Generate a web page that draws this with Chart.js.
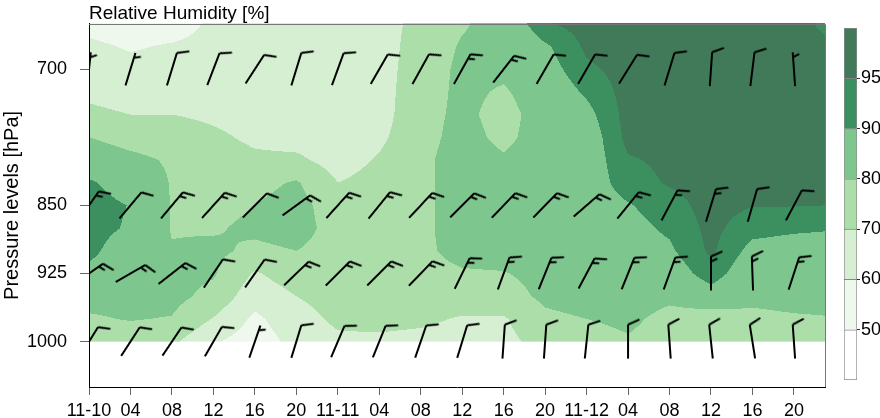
<!DOCTYPE html>
<html><head><meta charset="utf-8">
<script src="https://cdn.jsdelivr.net/npm/chart.js@4.4.1/dist/chart.umd.min.js"></script>
<style>
html,body{margin:0;padding:0;background:#fff;}
#wrap{position:relative;width:880px;height:418px;}
</style></head><body>
<div id="wrap">
  <div style="position:absolute;left:0;top:0;width:880px;height:418px"><canvas id="main"></canvas></div>
  <div style="position:absolute;left:835px;top:0;width:45px;height:418px"><canvas id="cbar"></canvas></div>
</div>
<script>
// ---------- data ----------
const hours  = [0,4,8,12,16,20,24,28,32,36,40,44,48,52,56,60,64,68,71];   // hours since 11-10 00:00
const levels = [650,675,700,725,750,775,800,825,850,875,900,925,950,975,1000]; // hPa
const rh650  = [57,54,55,62,63,64,65,66,73,79,84,94.5,97,99,99,99,99,99,93];
const rh675  = [62,59,61,63,63,64,64,66,74,81,83,89,96,98,99,99,99,99,97];
const rh700  = [65,63,64,64,63,63,63,66,75,82,82,87,94,97,99,99,99,99,99];
const rh725  = [68,66,67,66,64,63,62,66,76,82,79,85,91,97,99,99,99,99,99];
const rh750  = [72,70,70,68,66,64,62,66,77,82,77,84,88,97,98,99,99,99,99];
const rh775  = [80,77,76,72,68,66,63,68,77,83,78,84,86,96.5,97,99,98,98,98];
const rh800  = [85,82,79,75,72,72,66,71,78,84,81,84,86,94.5,96,98,97,97,97];
const rh825  = [91,86,79.5,77,77,81,70,73,78,84,84,84,86,93,95.5,97,96,96,96];
const rh850  = [93,89.7,79.5,77,80,84,74,75,78,84,85,84,86,89.5,93,97,95.2,95.2,95];
const rh875  = [93,89,79.5,79,82,84,76,76,78,84,85,84,86,88,91,96.5,92,91,90.5];
const rh900  = [92,85,80.5,82,78,80,76,76,78,83,84,84,86,87,89,96,88,87,87];
const rh925  = [88,84,83,81,69,75,75,76,77,79,79.5,83,85,86,86,93,85,85,85];
const rh950  = [83,83,83,77,64,70,74,75,76,76,76,82,84,85,82,87,82,83,83];
const rh975  = [79,80.5,79.5,69.5,58,66,72,73,72,69,69,78,80,82,77,75,78,79,79.5];
const rh1000 = [76,75,72,61,55,63,68,68,67,66,67,74,76,79,76,74,76,76,76];
const rhRows = [rh650,rh675,rh700,rh725,rh750,rh775,rh800,rh825,rh850,rh875,rh900,rh925,rh950,rh975,rh1000];

const barbHours  = [0,4,8,12,16,20,24,28,32,36,40,44,48,52,56,60,64,68];
const barbLevels = [700,850,925,1000];
const wdir700  = [6,17,17,21,33,17,20,30,29,29,38,30,30,32,17,4,7,-4];
const wspd700  = [5,5,10,10,10,10,10,10,10,15,15,10,10,10,10,10,10,5];
const wdir850  = [35,40,40,42,45,54,42,39,43,45,44,44,49,39,28,17,16,28];
const wspd850  = [15,10,15,15,10,15,15,15,15,15,15,15,15,15,15,15,10,10];
const wdir925  = [55,60,52,34,35,46,45,45,44,26,20,22,28,22,20,0,-2,18];
const wspd925  = [15,15,15,10,10,15,15,15,15,15,15,15,15,15,15,15,15,15];
const wdir1000 = [32,33,34,30,19,17,23,22,19,17,4,4,6,0,-4,-6,-9,-4];
const wspd1000 = [10,10,10,10,5,10,10,10,10,10,10,10,10,10,10,10,10,10];
const windDir = [wdir700,wdir850,wdir925,wdir1000];
const windSpd = [wspd700,wspd850,wspd925,wspd1000];

const xTickHours  = [0,4,8,12,16,20,24,28,32,36,40,44,48,52,56,60,64,68];
const xTickLabels = ['11-10','04','08','12','16','20','11-11','04','08','12','16','20','11-12','04','08','12','16','20'];
const yTickValues = [700,850,925,1000];
const yTickLabels = ['700','850','925','1000'];

const rhBreaks = [50,60,70,80,90,95];
const rhColors = ['#ffffff','#eef8ec','#d6efd2','#acdeaa','#7dc68e','#3c8f5e','#417a59'];
const cbLabels = ['50','60','70','80','90','95'];

// ---------- helpers ----------
Chart.defaults.font.family = "'Liberation Sans', Arial, sans-serif";
Chart.defaults.font.size = 18;
Chart.defaults.color = '#000';

function idxBelow(arr, v){ let i = 0; while (i < arr.length - 2 && v > arr[i+1]) i++; return i; }
function rhAt(t, p){
  const i = idxBelow(hours, t), j = idxBelow(levels, p);
  let fx = (t - hours[i]) / (hours[i+1] - hours[i]);
  let fy = (p - levels[j]) / (levels[j+1] - levels[j]);
  fx = Math.max(0, Math.min(1, fx)); fy = Math.max(0, Math.min(1, fy));
  const a = rhRows[j][i], b = rhRows[j][i+1], c = rhRows[j+1][i], d = rhRows[j+1][i+1];
  return (a*(1-fx) + b*fx)*(1-fy) + (c*(1-fx) + d*fx)*fy;
}
function colorFor(v){ let k = 0; while (k < rhBreaks.length && v >= rhBreaks[k]) k++; return rhColors[k]; }

function makeBarb(speed){
  const S = 76, c = S/2, L = 34, h = L/2;
  const cv = document.createElement('canvas'); cv.width = S; cv.height = S;
  const g = cv.getContext('2d');
  g.strokeStyle = '#000'; g.lineWidth = 2; g.lineCap = 'butt';
  g.beginPath(); g.moveTo(c, c + h); g.lineTo(c, c - h); g.stroke();
  const ang = 66 * Math.PI / 180, dx = Math.sin(ang), dy = -Math.cos(ang);
  const n10 = Math.floor(speed / 10), n5 = Math.round((speed % 10) / 5);
  const gap = 5, full = 12.5, half = 7;
  let pos = (n10 === 0 && n5) ? gap : 0;
  for (let i = 0; i < n10; i++) {
    const y0 = c - h + pos;
    g.beginPath(); g.moveTo(c, y0); g.lineTo(c + dx*full, y0 + dy*full); g.stroke();
    pos += gap;
  }
  if (n5) {
    const y0 = c - h + pos;
    g.beginPath(); g.moveTo(c, y0); g.lineTo(c + dx*half, y0 + dy*half); g.stroke();
  }
  return cv;
}
const barbCache = {};
function barbImg(s){ if (!barbCache[s]) barbCache[s] = makeBarb(s); return barbCache[s]; }

// ---------- plugins ----------
const rhFill = {
  id: 'rhFill',
  beforeDraw(chart){
    const {ctx, chartArea: a, scales: {x, y}} = chart;
    const yTop = Math.max(a.top, y.getPixelForValue(levels[0]));
    const yBot = Math.min(a.bottom, y.getPixelForValue(levels[levels.length - 1]));
    const xL = a.left, xR = Math.min(a.right, x.getPixelForValue(hours[hours.length - 1]));
    ctx.save();
    for (let py = Math.floor(yTop); py < yBot; py++) {
      const p = y.getValueForPixel(Math.min(py + 0.5, yBot - 0.01));
      const hh = Math.min(py + 1, yBot) - py;
      let runStart = Math.floor(xL), runCol = null;
      const xEnd = Math.ceil(xR);
      for (let px = Math.floor(xL); px <= xEnd; px++) {
        let col = null;
        if (px < xEnd) col = colorFor(rhAt(x.getValueForPixel(px + 0.5), p));
        if (col !== runCol) {
          if (runCol) { ctx.fillStyle = runCol; ctx.fillRect(runStart, py, px - runStart, hh); }
          runStart = px; runCol = col;
        }
      }
    }
    ctx.restore();
  },
  afterDraw(chart){
    const {ctx, chartArea: a} = chart;
    ctx.save();
    ctx.strokeStyle = '#777'; ctx.lineWidth = 1;
    ctx.beginPath();
    ctx.moveTo(a.left, Math.round(a.top) + 0.5); ctx.lineTo(Math.round(a.right) + 0.5, Math.round(a.top) + 0.5);
    ctx.lineTo(Math.round(a.right) + 0.5, a.bottom);
    ctx.stroke();
    ctx.restore();
  }
};

// ---------- main chart ----------
new Chart(document.getElementById('main'), {
  type: 'scatter',
  data: {
    datasets: barbLevels.map((lev, k) => ({
      label: lev + ' hPa wind',
      data: barbHours.map(hr => ({x: hr, y: lev})),
      pointStyle: windSpd[k].map(s => barbImg(s)),
      rotation: windDir[k],
      pointRadius: 3,
      clip: 0
    }))
  },
  options: {
    responsive: true, maintainAspectRatio: false, animation: false, events: [],
    layout: {padding: {top: 0, right: 55, bottom: 0, left: 0}},
    plugins: {
      legend: {display: false}, tooltip: {enabled: false},
      title: {display: true, text: 'Relative Humidity [%]', align: 'start', fullSize: false,
              color: '#000', font: {size: 19, weight: 'normal', lineHeight: 1.04}, padding: {top: 0, bottom: 0}}
    },
    scales: {
      x: {
        type: 'linear', min: 0, max: 71, position: 'bottom',
        afterFit: s => { s.height = 31; },
        afterBuildTicks: s => { s.ticks = xTickHours.map(v => ({value: v})); },
        grid: {drawOnChartArea: false, tickLength: 8, color: '#666'},
        border: {display: true, color: '#000'},
        ticks: {autoSkip: false, maxRotation: 0, padding: 5, color: '#000', callback: (v, i) => xTickLabels[i]}
      },
      y: {
        type: 'linear', min: 650, max: 1050, reverse: true, position: 'left',
        afterFit: s => { s.width = 89; },
        afterBuildTicks: s => { s.ticks = yTickValues.map(v => ({value: v})); },
        grid: {drawOnChartArea: false, tickLength: 9, color: '#666'},
        border: {display: true, color: '#000'},
        ticks: {padding: 13, color: '#000', callback: (v, i) => yTickLabels[i]},
        title: {display: true, text: 'Pressure levels [hPa]', color: '#000', font: {size: 20}, padding: 0}
      }
    }
  },
  plugins: [rhFill]
});

// ---------- colour bar ----------
new Chart(document.getElementById('cbar'), {
  type: 'bar',
  data: {
    labels: ['RH'],
    datasets: rhColors.map((col, i) => ({
      label: i === 0 ? '<50' : '>=' + rhBreaks[i-1],
      data: [1],
      backgroundColor: col,
      borderColor: 'rgba(0,0,0,0.45)',
      borderWidth: {top: 1, left: 1, right: 1, bottom: i === 0 ? 1 : 0},
      borderSkipped: false,
      barPercentage: 1, categoryPercentage: 1, stack: 'cb'
    }))
  },
  options: {
    responsive: true, maintainAspectRatio: false, animation: false, events: [],
    layout: {padding: {left: 9, top: 28, bottom: 38, right: 0}},
    plugins: {legend: {display: false}, tooltip: {enabled: false}},
    scales: {
      x: {display: false, stacked: true},
      y: {
        stacked: true, min: 0, max: rhColors.length, position: 'right',
        afterFit: s => { s.width = 23; },
        afterBuildTicks: s => { s.ticks = rhBreaks.map((b, i) => ({value: i + 1})); },
        grid: {drawOnChartArea: false, tickLength: 3, color: '#333'},
        border: {display: false},
        ticks: {padding: 1, color: '#000', callback: (v, i) => cbLabels[i]}
      }
    }
  }
});
</script>
</body></html>
